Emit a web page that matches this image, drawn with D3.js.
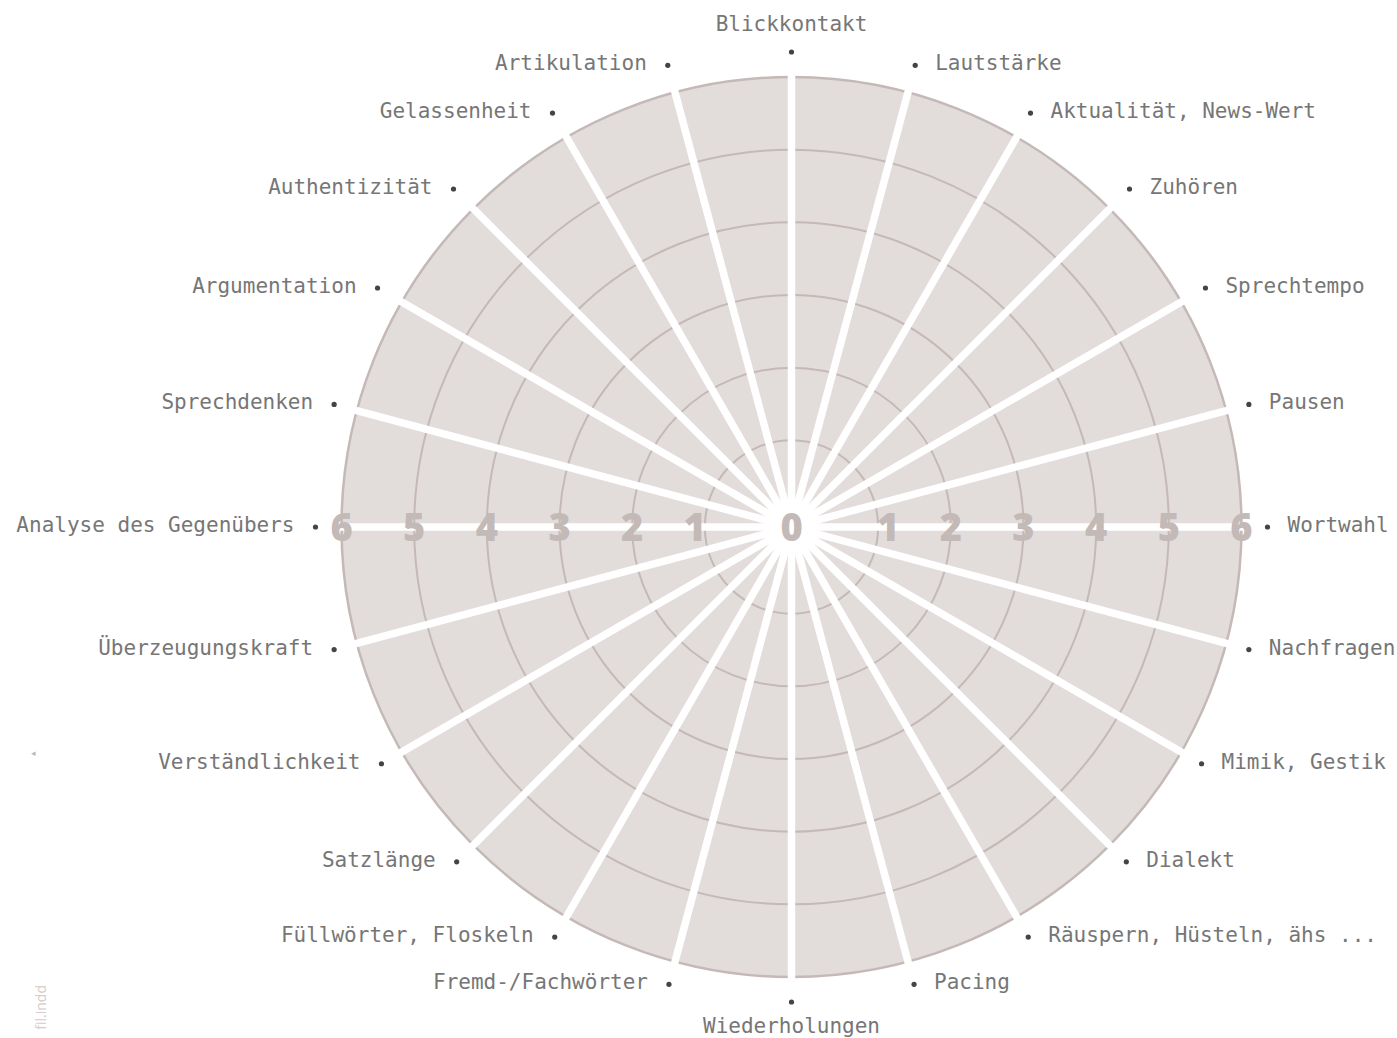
<!DOCTYPE html>
<html>
<head>
<meta charset="utf-8">
<script src="https://cdn.jsdelivr.net/npm/d3@7"></script>
<style>
  html, body { margin: 0; padding: 0; background: #fff; }
  svg { display: block; }
  .lbl { font-family: "DejaVu Sans Mono", monospace; font-size: 21px; fill: #767676; }
  .num { font-family: "Open Sans", "Lato", sans-serif; font-weight: 800; font-size: 38px; fill: #c3b9b6; }
</style>
</head>
<body>
<svg id="chart" width="1397" height="1038"></svg>
<script>
// categories, clockwise from top
const categories = [
  "Blickkontakt", "Lautstärke", "Aktualität, News-Wert", "Zuhören", "Sprechtempo",
  "Pausen", "Wortwahl", "Nachfragen", "Mimik, Gestik", "Dialekt",
  "Räuspern, Hüsteln, ähs ...", "Pacing", "Wiederholungen", "Fremd-/Fachwörter",
  "Füllwörter, Floskeln", "Satzlänge", "Verständlichkeit", "Überzeugungskraft",
  "Analyse des Gegenübers", "Sprechdenken", "Argumentation", "Authentizität",
  "Gelassenheit", "Artikulation"
];
const ringValues = [1, 2, 3, 4, 5, 6];
const scaleLabels = [0, 1, 2, 3, 4, 5, 6];

const cx = 791.5, cy = 527;
const svg = d3.select("#chart");
const g = svg.append("g").attr("transform", `translate(${cx},${cy})`);

const r = d3.scaleLinear().domain([0, 6]).range([14, 450]);
const angle = d3.scaleLinear().domain([0, categories.length]).range([0, 2 * Math.PI]);

// background disc
g.append("circle").attr("r", r(6)).attr("fill", "#e2dddb");

// rings
g.selectAll(".ring").data(ringValues).join("circle")
  .attr("class", "ring")
  .attr("r", d => r(d))
  .attr("fill", "none")
  .attr("stroke", "#c4b9b6")
  .attr("stroke-width", d => d === 6 ? 2.5 : 2);

// white centre
g.append("circle").attr("r", r(0)).attr("fill", "#fff");

// spokes
g.selectAll(".spoke").data(categories).join("line")
  .attr("class", "spoke")
  .attr("x1", 0).attr("y1", 0)
  .attr("x2", (d, i) => (r(6) + 3) * Math.sin(angle(i)))
  .attr("y2", (d, i) => -(r(6) + 3) * Math.cos(angle(i)))
  .attr("stroke", "#fff")
  .attr("stroke-width", 7.5);

// scale numbers on the horizontal spoke
const numOffset = d => d === 1 ? 10 : 0;
g.selectAll(".numR").data(scaleLabels).join("text")
  .attr("class", "num")
  .attr("x", d => d === 0 ? 0 : r(d) + numOffset(d))
  .attr("y", 0)
  .attr("dy", "0.36em")
  .attr("text-anchor", "middle")
  .text(d => d);
g.selectAll(".numL").data(scaleLabels.slice(1)).join("text")
  .attr("class", "num")
  .attr("x", d => -r(d) - numOffset(d))
  .attr("y", 0)
  .attr("dy", "0.36em")
  .attr("text-anchor", "middle")
  .text(d => d);

// category labels with bullet dots
// the label ring sits a touch further out on the upper diagonals
const dotRadius = a => {
  const c = Math.cos(a), s = Math.abs(Math.sin(a));
  if (Math.abs(Math.abs(c) - 1) < 1e-6) return 475;
  if (Math.abs(s - 1) < 1e-6) return 476;
  return c > 0.4 ? 478 : 473.5;
};
const dotPos = i => {
  const a = angle(i), rr = dotRadius(a);
  return [rr * Math.sin(a), -rr * Math.cos(a)];
};

const lab = g.selectAll(".cat").data(categories).join("g").attr("class", "cat");
lab.append("circle")
  .attr("cx", (d, i) => dotPos(i)[0])
  .attr("cy", (d, i) => dotPos(i)[1])
  .attr("r", 2.6)
  .attr("fill", "#444");
lab.append("text")
  .attr("class", "lbl")
  .each(function (d, i) {
    const [x, y] = dotPos(i);
    const t = d3.select(this);
    if (i === 0) {
      t.attr("x", x).attr("y", y - 21).attr("text-anchor", "middle");
    } else if (i === 12) {
      t.attr("x", x).attr("y", y + 31).attr("text-anchor", "middle");
    } else if (i < 12) {
      t.attr("x", x + 20).attr("y", y + 5).attr("text-anchor", "start");
    } else {
      t.attr("x", x - 21).attr("y", y + 5).attr("text-anchor", "end");
    }
  })
  .text(d => d);

// faint page artefacts at the left edge
svg.append("text")
  .attr("x", 33).attr("y", 756)
  .attr("text-anchor", "middle")
  .attr("font-size", 9).attr("fill", "#bbb")
  .text("◂");
svg.append("text")
  .attr("transform", "translate(46,985) rotate(-90)")
  .attr("text-anchor", "end")
  .attr("font-family", "Open Sans, sans-serif")
  .attr("font-size", 14).attr("fill", "#d4cccb")
  .text("fil.indd");
</script>
</body>
</html>
